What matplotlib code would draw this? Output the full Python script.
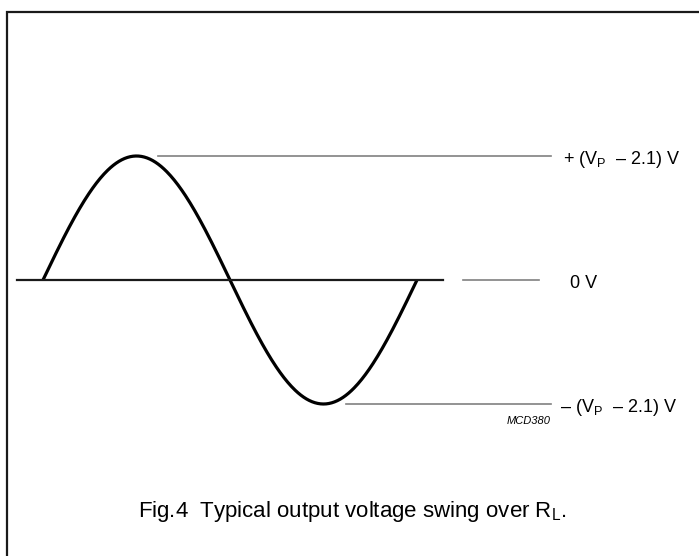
import numpy as np
import matplotlib
matplotlib.use("Agg")
import matplotlib.pyplot as plt
from matplotlib.patches import Rectangle

plt.rcParams['font.family'] = ['Liberation Sans', 'DejaVu Sans']
plt.rcParams['mathtext.fontset'] = 'custom'
plt.rcParams['mathtext.rm'] = 'Liberation Sans'
plt.rcParams['mathtext.it'] = 'Liberation Sans:italic'

# one period of the output swing, phase 0..1, amplitude normalised to +/-1
wave_start = 0.0
wave_end = 1.0
amplitude = 1.0

# reference levels: (label, level, line start, line end) in phase units
level_labels = ["+ (V$_\\mathrm{P}$  \u2013 2.1) V", "0 V", "\u2013 (V$_\\mathrm{P}$  \u2013 2.1) V"]
level_values = [1.0, 0.0, -1.0]
level_starts = [0.307, 1.123, 0.81]
level_ends = [1.358, 1.326, 1.358]
label_offsets = [1.39, 1.41, 1.383]

axis_start = -0.07
axis_end = 1.07

caption = "Fig.4  Typical output voltage swing over R$_\\mathrm{L}$."
code = "MCD380"

W, H = 699, 556
fig = plt.figure(figsize=(W / 100, H / 100), dpi=100)

# frame around the figure (right/bottom edges fall outside the crop)
fig.patches.append(Rectangle((7 / W, -0.05), 1.2, 1 - 12 / H + 0.05,
                             transform=fig.transFigure, fill=False,
                             edgecolor='#1a1a1a', linewidth=1.6))

# axes so that phase 0..1 spans px 43..417 and +/-1 spans px 404..156
ax = fig.add_axes([43 / W, (H - 404) / H, 374 / W, 248 / H])
ax.set_xlim(0, 1)
ax.set_ylim(-1, 1)
ax.axis('off')

t = np.linspace(wave_start, wave_end, 400)
ax.plot(t, amplitude * np.sin(2 * np.pi * t), color='black', lw=2.3,
        solid_capstyle='butt', clip_on=False)
ax.plot([axis_start, axis_end], [0, 0], color='#1a1a1a', lw=1.6,
        clip_on=False)

for lab, v, x0, x1, xl in zip(level_labels, level_values, level_starts,
                              level_ends, label_offsets):
    ax.plot([x0, x1], [v, v], color='#808080', lw=1.2, clip_on=False)
    ax.text(xl, v - 0.025, lab, fontsize=13, ha='left', va='center',
            clip_on=False)

ax.text(1.358, -1.14, code, fontsize=8, style='italic', ha='right',
        va='center', clip_on=False)

fig.text(352 / W, 1 - 512 / H, caption, fontsize=16, ha='center',
         va='center')

fig.savefig("out.png", dpi=100)
